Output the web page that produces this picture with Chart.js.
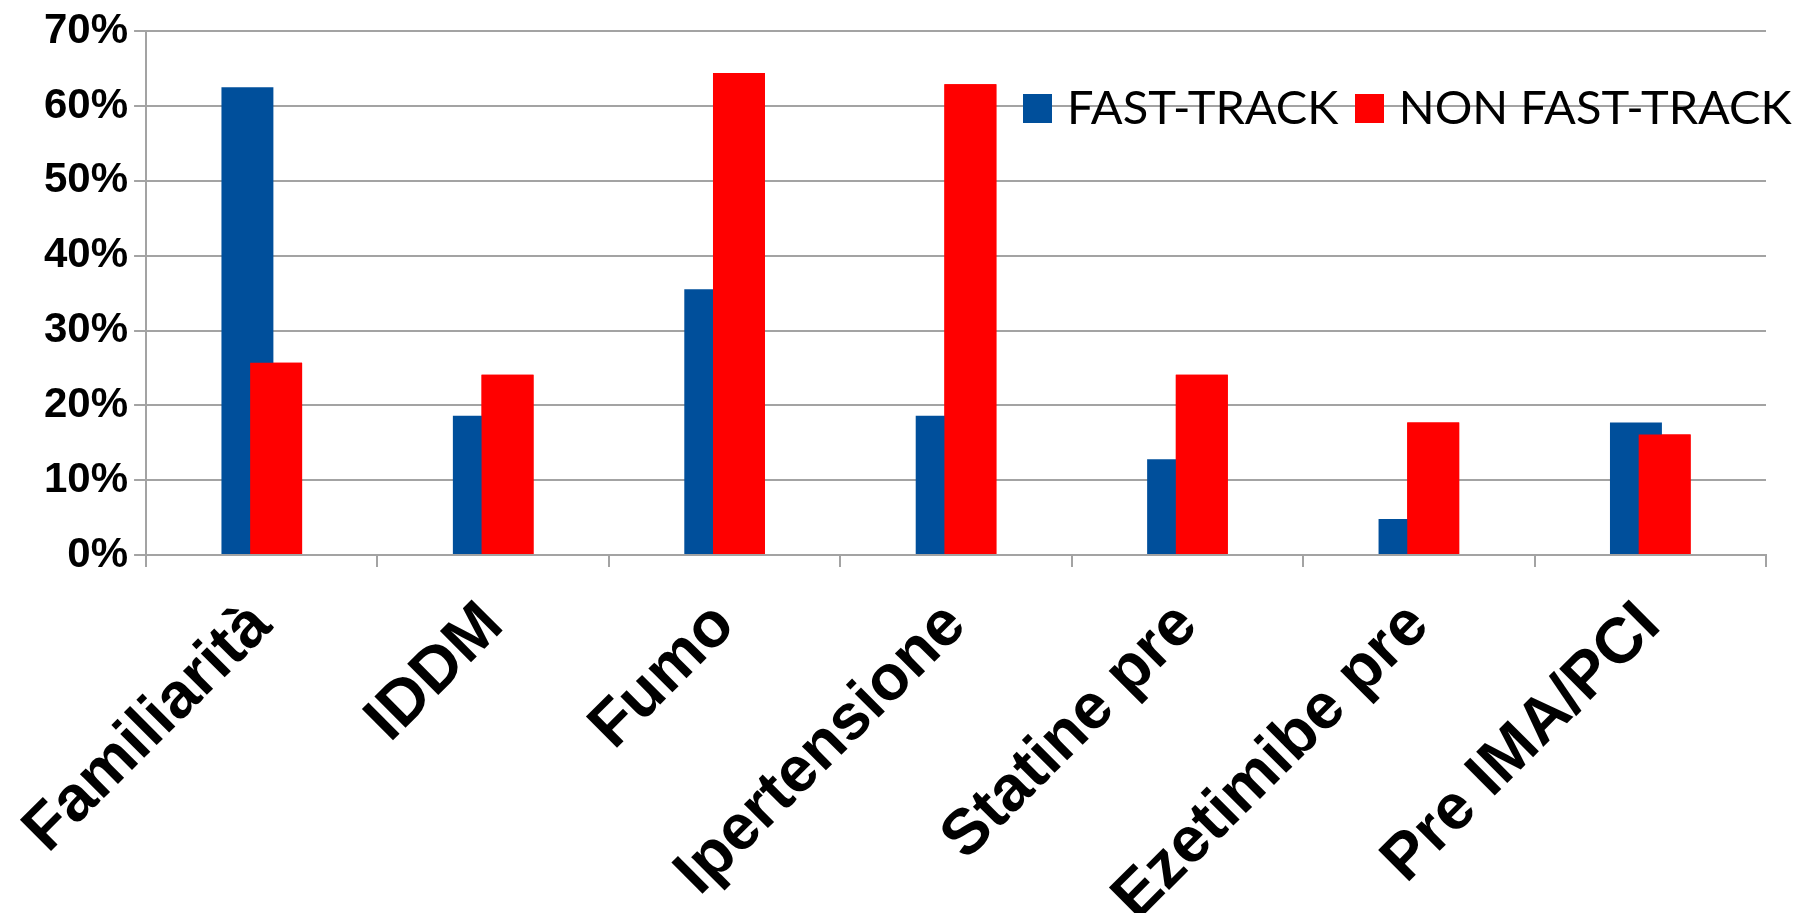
<!DOCTYPE html>
<html>
<head>
<meta charset="utf-8">
<script src="https://cdn.jsdelivr.net/npm/chart.js@4/dist/chart.umd.min.js"></script>
<style>
  html, body { margin: 0; padding: 0; background: #ffffff; }
  #wrap { width: 1795px; height: 913px; position: relative; }
</style>
</head>
<body>
<div id="wrap"><canvas id="c" width="1795" height="913"></canvas></div>
<script>
const categories = ["Familiarità", "IDDM", "Fumo", "Ipertensione", "Statine pre", "Ezetimibe pre", "Pre IMA/PCI"];
const fastTrack = [62.5, 18.6, 35.5, 18.6, 12.8, 4.8, 17.7];
const nonFastTrack = [25.7, 24.1, 64.4, 62.9, 24.1, 17.7, 16.1];
const seriesNames = ["FAST-TRACK", "NON FAST-TRACK"];
const yTicks = [0, 10, 20, 30, 40, 50, 60, 70];

const BLUE = '#004f9b';
const RED = '#ff0000';
const GRID = '#a3a3a3';

function swatch(color) {
  const c = document.createElement('canvas');
  c.width = 29; c.height = 29;
  const g = c.getContext('2d');
  g.fillStyle = color;
  g.fillRect(0, 0, 29, 29);
  return c;
}
const swatches = [swatch(BLUE), swatch(RED)];

const redOnTop = {
  id: 'redOnTop',
  afterDatasetsDraw(chart) {
    const meta = chart.getDatasetMeta(1);
    if (meta && meta.visible !== false) meta.controller.draw();
  }
};

// place the legend inside the plot, top-right, as in the reference
const legendPlace = {
  id: 'legendPlace',
  afterLayout(chart) {
    const lg = chart.legend;
    if (!lg || !lg.lineWidths || !lg.lineWidths.length) return;
    lg.left = 0;
    lg.right = 1031.5 + lg.lineWidths[0];
    lg.width = lg.right - lg.left;
    lg.top = 60;
    lg.height = 100;
    lg.bottom = lg.top + lg.height;
  }
};

new Chart(document.getElementById('c'), {
  type: 'bar',
  data: {
    labels: categories,
    datasets: [
      { label: seriesNames[0], data: fastTrack, backgroundColor: BLUE, borderWidth: 0 },
      { label: seriesNames[1], data: nonFastTrack, backgroundColor: RED, borderWidth: 0 }
    ]
  },
  options: {
    responsive: false,
    animation: false,
    devicePixelRatio: 1,
    categoryPercentage: 0.248,
    barPercentage: 1.81,
    layout: { padding: { left: 38, right: 29, top: 29, bottom: 0 } },
    plugins: {
      tooltip: { enabled: false },
      legend: {
        position: 'top',
        align: 'end',
        maxHeight: 1,
        labels: {
          usePointStyle: true,
          pointStyleWidth: 12,
          boxHeight: 29,
          padding: 25,
          color: '#000000',
          font: { family: 'Lato', weight: '400', size: 47 },
          generateLabels(chart) {
            const items = Chart.defaults.plugins.legend.labels.generateLabels(chart);
            items.forEach((it, i) => { it.pointStyle = swatches[i]; });
            return items;
          }
        }
      }
    },
    scales: {
      x: {
        grid: { display: true, drawOnChartArea: false, drawTicks: true, tickLength: 12, color: GRID, lineWidth: 2, offset: true },
        border: { display: true, color: GRID, width: 2 },
        ticks: {
          autoSkip: false,
          maxRotation: 45,
          minRotation: 45,
          padding: 21,
          color: '#000000',
          font: { family: 'Liberation Sans', weight: 'bold', size: 64 }
        },
        afterFit(axis) { axis.height = 358; }
      },
      y: {
        min: 0,
        max: 70,
        afterBuildTicks(axis) { axis.ticks = yTicks.map(v => ({ value: v })); },
        grid: { color: GRID, lineWidth: 2, tickLength: 12, drawTicks: true },
        border: { display: true, color: GRID, width: 2 },
        ticks: {
          padding: 6,
          color: '#000000',
          font: { family: 'Liberation Sans', weight: 'bold', size: 42 },
          callback: (v) => v + '%'
        }
      }
    }
  },
  plugins: [redOnTop, legendPlace]
});
</script>
</body>
</html>
